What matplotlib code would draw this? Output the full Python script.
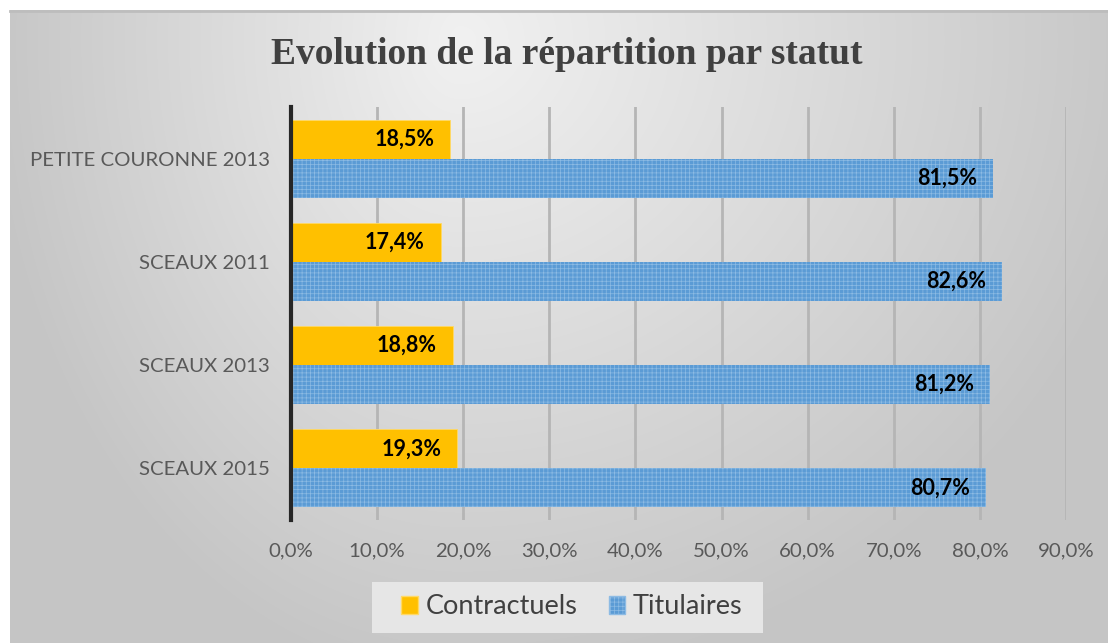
import numpy as np
import matplotlib.pyplot as plt
from matplotlib.patches import Patch, Rectangle

categories = ["PETITE COURONNE 2013", "SCEAUX 2011", "SCEAUX 2013", "SCEAUX 2015"]
contractuels = [18.5, 17.4, 18.8, 19.3]
titulaires = [81.5, 82.6, 81.2, 80.7]
xticks = [0, 10, 20, 30, 40, 50, 60, 70, 80, 90]

W, H = 1108, 643
fig = plt.figure(figsize=(W / 100, H / 100), dpi=100)
fig.patch.set_facecolor("white")

# background gradient of the chart area
bg = fig.add_axes([10 / W, 0, 1 - 10 / W, 1 - 10 / H], zorder=0)
yy, xx = np.mgrid[10:H, 10:W]
cx, cy = 460, 40
rx = np.where(xx < cx, 470, 700)
d = np.sqrt(((xx - cx) / rx) ** 2 + ((yy - cy) / 640) ** 2)
d = np.clip(d, 0, 1)
shade = 0.945 - (0.945 - 0.775) * d
img = np.dstack([shade, shade, shade])
bg.imshow(img, aspect="auto", extent=[0, 1, 0, 1], origin="upper")
bg.axis("off")
fig.add_artist(plt.Line2D([10 / W, 1], [1 - 11 / H, 1 - 11 / H], color="#BDBDBD", lw=2))

ax = fig.add_axes([291 / W, 1 - 520 / H, (1066 - 291) / W, (520 - 107) / H], zorder=1)
ax.patch.set_alpha(0)

y = np.arange(len(categories))
h = 0.377
blue = "#5B9BD5"
gold = "#FFC000"
b1 = ax.barh(y - h / 2, contractuels, height=h, color=gold, edgecolor="#FFD966", linewidth=0.6, zorder=3)
plt.rcParams["hatch.linewidth"] = 0.5
b2 = ax.barh(y + h / 2, titulaires, height=h, color=blue, edgecolor="#8DBBE4", linewidth=0.0,
             hatch="++++", zorder=3)

for bars, vals in [(b1, contractuels), (b2, titulaires)]:
    for bar, v in zip(bars, vals):
        ax.annotate(f"{v:.1f}%".replace(".", ","),
                    (bar.get_width(), bar.get_y() + bar.get_height() / 2),
                    xytext=(-16, 0), textcoords="offset pixels",
                    ha="right", va="center", fontsize=15.5, fontweight="bold",
                    family="Lato", color="black", zorder=5)

ax.set_xlim(0, 90)
ax.set_ylim(len(categories) - 0.5, -0.5)
ax.set_xticks(xticks)
ax.set_xticklabels([f"{t:.1f}%".replace(".", ",") for t in xticks])
ax.set_yticks(y)
ax.set_yticklabels(categories)
ax.tick_params(axis="both", length=0, labelsize=14.7, labelcolor="#595959")
ax.tick_params(axis="x", pad=16)
ax.tick_params(axis="y", pad=15)
for lab in ax.get_xticklabels() + ax.get_yticklabels():
    lab.set_family("Lato")
ax.grid(axis="x", color="#B5B5B5", lw=2, zorder=1)
for s in ["top", "right", "bottom"]:
    ax.spines[s].set_visible(False)
ax.spines["left"].set_color("#262626")
ax.spines["left"].set_linewidth(3)
ax.spines["left"].set_zorder(4)

fig.text(567 / W, 1 - 55 / H, "Evolution de la répartition par statut", ha="center", va="center",
         fontsize=27, fontweight="bold", family="Liberation Serif", color="#404040")

# legend background box
fig.patches.append(Rectangle((372 / W, 1 - 633 / H), (763 - 372) / W, 51 / H,
                             transform=fig.transFigure, facecolor="#E6E6E6", edgecolor="none",
                             zorder=2))

handles = [Patch(facecolor=gold, edgecolor="#FFD966", label="Contractuels"),
           Patch(facecolor=blue, edgecolor="#8DBBE4", hatch="++++", label="Titulaires")]
leg = fig.legend(handles=handles, loc="center", bbox_to_anchor=(572 / W, 1 - 607 / H), ncol=2,
                 prop={"family": "Lato", "size": 19.5}, frameon=False,
                 handlelength=0.6, handleheight=0.6, handletextpad=0.3, columnspacing=1.15,
                 borderpad=0, borderaxespad=0)
leg.set_zorder(3)
for t in leg.get_texts():
    t.set_color("#404040")

fig.savefig("out.png", dpi=100)
